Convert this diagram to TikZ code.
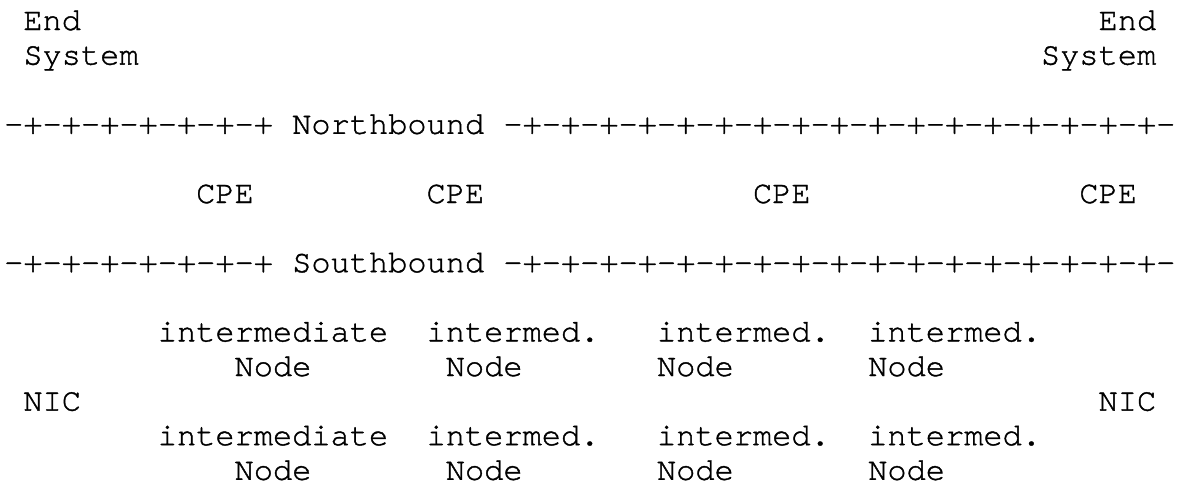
\documentclass[tikz,border=0pt]{standalone}
\usepackage{fontspec}
\setmonofont[FakeBold=1.2]{TeX Gyre Cursor}
\usepackage{tikz}

\tikzset{
    ascii/.style={inner sep=0pt, outer sep=0pt, anchor=base west,
        font=\fontsize{16}{18}\selectfont\ttfamily},
}

\begin{document}
\begin{tikzpicture}[x=9.6pt, y=-17.3pt]
    \useasboundingbox (-0.21875,-0.867) rectangle (61.24,13.15);

    % End systems
    \node [ascii] (es-l)    at (1,0)   {End};
    \node [ascii] (sys-l)   at (1,1)   {System};
    \node [ascii] (es-r)    at (57,0)  {End};
    \node [ascii] (sys-r)   at (54,1)  {System};

    % Northbound
    \node [ascii] (nb-l)    at (0,3)   {-+-+-+-+-+-+-+};
    \node [ascii] (nb)      at (15,3)  {Northbound};
    \node [ascii] (nb-r)    at (26,3)  {-+-+-+-+-+-+-+-+-+-+-+-+-+-+-+-+-+-};

    % CPEs
    \node [ascii] (cpe1)    at (10,5)  {CPE};
    \node [ascii] (cpe2)    at (22,5)  {CPE};
    \node [ascii] (cpe3)    at (39,5)  {CPE};
    \node [ascii] (cpe4)    at (56,5)  {CPE};

    % Southbound
    \node [ascii] (sb-l)    at (0,7)   {-+-+-+-+-+-+-+};
    \node [ascii] (sb)      at (15,7)  {Southbound};
    \node [ascii] (sb-r)    at (26,7)  {-+-+-+-+-+-+-+-+-+-+-+-+-+-+-+-+-+-};

    % Intermediate nodes, upper row
    \node [ascii] (im11)    at (8,9)   {intermediate};
    \node [ascii] (im12)    at (22,9)  {intermed.};
    \node [ascii] (im13)    at (34,9)  {intermed.};
    \node [ascii] (im14)    at (45,9)  {intermed.};
    \node [ascii] (nd11)    at (12,10) {Node};
    \node [ascii] (nd12)    at (23,10) {Node};
    \node [ascii] (nd13)    at (34,10) {Node};
    \node [ascii] (nd14)    at (45,10) {Node};

    % NICs
    \node [ascii] (nic-l)   at (1,11)  {NIC};
    \node [ascii] (nic-r)   at (57,11) {NIC};

    % Intermediate nodes, lower row
    \node [ascii] (im21)    at (8,12)  {intermediate};
    \node [ascii] (im22)    at (22,12) {intermed.};
    \node [ascii] (im23)    at (34,12) {intermed.};
    \node [ascii] (im24)    at (45,12) {intermed.};
    \node [ascii] (nd21)    at (12,13) {Node};
    \node [ascii] (nd22)    at (23,13) {Node};
    \node [ascii] (nd23)    at (34,13) {Node};
    \node [ascii] (nd24)    at (45,13) {Node};

\end{tikzpicture}
\end{document}
